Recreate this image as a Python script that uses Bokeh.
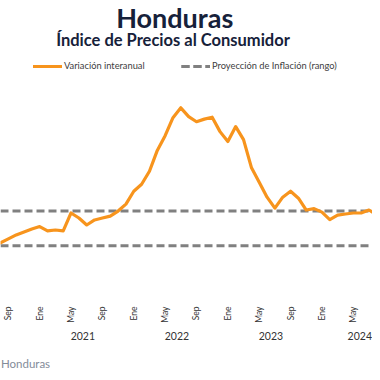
from math import pi
from bokeh.plotting import figure
from bokeh.models import Range1d, LinearAxis, FixedTicker, Legend, LegendItem, Label
from bokeh.embed import file_html
from bokeh.resources import INLINE

# ---- data -------------------------------------------------------------
meses_abrev = ["Ene", "Feb", "Mar", "Abr", "May", "Jun",
               "Jul", "Ago", "Sep", "Oct", "Nov", "Dic"]
anio_inicio, mes_inicio = 2020, 8   # first observation: Ago 2020

# Variación interanual del IPC (%), Ago 2020 - Ago 2024
inflacion = [3.17, 3.40, 3.63, 3.80, 3.97,                       # 2020 Ago-Dic
             4.11, 3.86, 3.91, 3.86, 4.89, 4.60, 4.20, 4.49,      # 2021 Ene-Ago
             4.60, 4.71, 5.00, 5.40,                               # 2021 Sep-Dic
             6.14, 6.54, 7.29, 8.49, 9.34, 10.37, 10.94, 10.43,    # 2022 Ene-Ago
             10.14, 10.29, 10.40, 9.57,                            # 2022 Sep-Dic
             9.00, 9.86, 9.11, 7.51, 6.66, 5.80, 5.17, 5.80,       # 2023 Ene-Ago
             6.14, 5.74, 5.06, 5.14,                               # 2023 Sep-Dic
             4.94, 4.51, 4.77, 4.83, 4.89, 4.89, 5.06, 4.77]       # 2024 Ene-Ago

# Proyección de inflación (rango)
rango_inferior = 3.0
rango_superior = 5.0

meses_con_etiqueta = ["Sep", "Ene", "May"]
anios = [2021, 2022, 2023, 2024]

titulo = "Honduras"
subtitulo = "Índice de Precios al Consumidor"
fuente = "Honduras"
serie_1 = "Variación interanual"
serie_2 = "Proyección de Inflación (rango)"

# ---- derived ----------------------------------------------------------
n = len(inflacion)
x = list(range(n))
mes_nombre, mes_anio = [], []
for i in range(n):
    k = (mes_inicio - 1) + i
    mes_nombre.append(meses_abrev[k % 12])
    mes_anio.append(anio_inicio + k // 12)

X_START, X_END = 0.0, 47.45
tick_pos = [i for i in x if mes_nombre[i] in meses_con_etiqueta]
tick_lab = {i: mes_nombre[i] for i in tick_pos}
anio_pos, anio_lab = [], {}
for a in anios:
    ene = [i for i in x if mes_anio[i] == a and mes_nombre[i] == "Ene"][0]
    c = min(ene + 5.5, X_END - 1.62)   # keep the last label inside the canvas
    anio_pos.append(c)
    anio_lab[c] = str(a)

FONT = "Lato"
NAVY = "#16213a"
ORANGE = "#f7941d"
GREY = "#808080"

W, H = 372, 372
BOTTOM = 72
FRAME_H = H - BOTTOM
PX_PER_X = W / (X_END - X_START)

p = figure(width=W, height=H, output_backend="svg", toolbar_location=None,
           x_range=Range1d(X_START, X_END), y_range=Range1d(-0.03, 17.114),
           x_axis_location=None, y_axis_location=None,
           min_border_left=0, min_border_right=0,
           min_border_top=0, min_border_bottom=BOTTOM)
p.outline_line_color = None
p.xgrid.visible = False
p.ygrid.visible = False
p.background_fill_color = "white"
p.border_fill_color = "white"

r_hi = p.line(x, [rango_superior] * n, line_color=GREY, line_width=3, line_dash="8 4")
r_lo = p.line(x, [rango_inferior] * n, line_color=GREY, line_width=3, line_dash="8 4")
r_inf = p.line(x, inflacion, line_color=ORANGE, line_width=3.2,
               line_join="round", line_cap="round")

legend = Legend(items=[LegendItem(label=serie_1, renderers=[r_inf]),
                       LegendItem(label=serie_2, renderers=[r_hi, r_lo])],
                orientation="horizontal", location=(33, FRAME_H - 73),
                border_line_color=None, background_fill_alpha=0,
                padding=0, margin=0, spacing=32, label_width=85,
                glyph_width=29, glyph_height=10, label_height=10, label_standoff=2,
                label_text_font=FONT, label_text_font_size="9.3px",
                label_text_color="#404040")
p.add_layout(legend)

# titles, placed in screen units (from the frame's bottom-left corner)
p.add_layout(Label(x=174.2, y=FRAME_H - 19.4, x_units="screen", y_units="screen",
                   text=titulo, text_align="center", text_baseline="alphabetic",
                   text_font=FONT, text_font_size="27px", text_font_style="bold",
                   text_color=NAVY))
p.add_layout(Label(x=172.5, y=FRAME_H - 41.75, x_units="screen", y_units="screen",
                   text=subtitulo, text_align="center", text_baseline="alphabetic",
                   text_font=FONT, text_font_size="16.5px", text_font_style="bold",
                   text_color=NAVY))

ax_m = LinearAxis(ticker=FixedTicker(ticks=tick_pos), major_label_overrides=tick_lab,
                  major_label_orientation=pi / 2, axis_line_color=None,
                  major_tick_line_color=None, minor_tick_line_color=None,
                  major_tick_in=0, major_tick_out=0, major_label_standoff=8,
                  major_label_text_font=FONT, major_label_text_font_size="8.5px",
                  major_label_text_color="#333333")
p.add_layout(ax_m, "below")

ax_y = LinearAxis(ticker=FixedTicker(ticks=anio_pos), major_label_overrides=anio_lab,
                  axis_line_color=None, major_tick_line_color=None,
                  minor_tick_line_color=None, major_tick_in=0, major_tick_out=0,
                  major_label_standoff=6,
                  major_label_text_font=FONT, major_label_text_font_size="10.5px",
                  major_label_text_color="#333333")
p.add_layout(ax_y, "below")

# source note, as a one-tick axis near the left edge
src_x = X_START + 25 / PX_PER_X
ax_f = LinearAxis(ticker=FixedTicker(ticks=[src_x]), major_label_overrides={src_x: fuente},
                  axis_line_color=None, major_tick_line_color=None,
                  minor_tick_line_color=None, major_tick_in=0, major_tick_out=0,
                  major_label_standoff=14,
                  major_label_text_font=FONT, major_label_text_font_size="11.5px",
                  major_label_text_color="#838c99")
p.add_layout(ax_f, "below")

open("out.html", "w").write(file_html(p, INLINE))
